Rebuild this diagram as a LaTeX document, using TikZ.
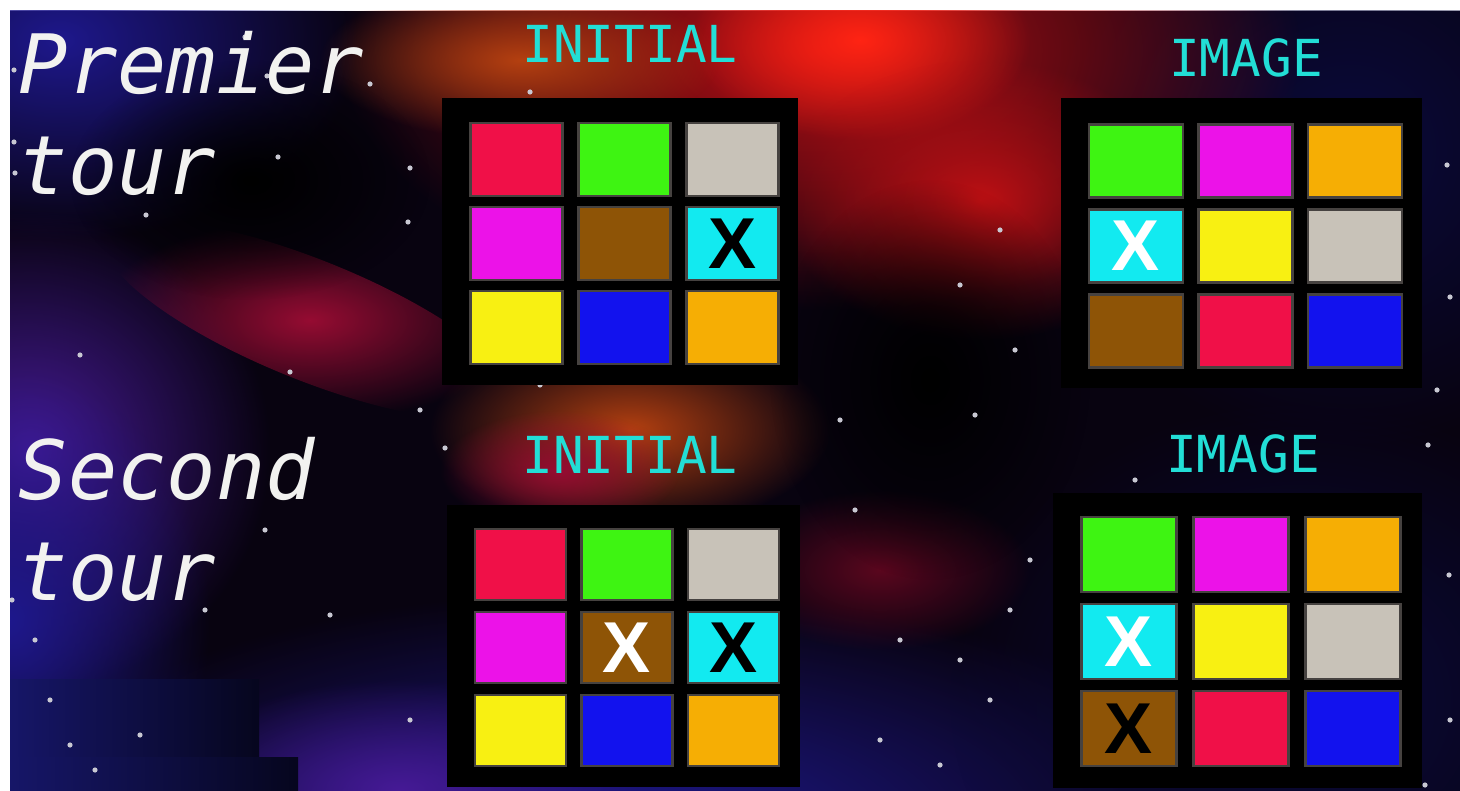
\documentclass[tikz,border=0pt]{standalone}
\usepackage{fontspec}
\usepackage{tikz}
\usetikzlibrary{positioning, fadings}
\newfontfamily\tourfont{DejaVu Sans Mono}
\newfontfamily\xfont{Liberation Sans}
\definecolor{CellRed}{RGB}{240, 16, 72}
\definecolor{CellGreen}{RGB}{62, 244, 18}
\definecolor{CellGray}{RGB}{200, 194, 184}
\definecolor{CellMagenta}{RGB}{236, 18, 232}
\definecolor{CellBrown}{RGB}{142, 84, 6}
\definecolor{CellCyan}{RGB}{18, 234, 240}
\definecolor{CellYellow}{RGB}{248, 240, 18}
\definecolor{CellBlue}{RGB}{18, 18, 238}
\definecolor{CellOrange}{RGB}{246, 174, 4}
\definecolor{CellEdge}{RGB}{70, 66, 64}
\definecolor{HeadCyan}{RGB}{34, 222, 214}
\definecolor{LabelWhite}{RGB}{242, 242, 240}
\definecolor{SpaceBase}{RGB}{8, 3, 16}
\definecolor{NebBlue}{RGB}{30, 24, 140}
\definecolor{NebPurple}{RGB}{70, 26, 150}
\definecolor{NebNavy}{RGB}{10, 10, 60}
\definecolor{NebRed}{RGB}{190, 16, 20}
\definecolor{NebCore}{RGB}{255, 36, 20}
\definecolor{NebCrimson}{RGB}{150, 12, 50}
\definecolor{NebOrange}{RGB}{180, 64, 16}
\definecolor{StarGray}{RGB}{200, 200, 210}
\definecolor{PatchLeft}{RGB}{22, 22, 104}
\definecolor{PatchRight}{RGB}{6, 6, 30}
\tikzfading[name=glowfade, inner color=transparent!0, outer color=transparent!100]

\begin{document}
\begin{tikzpicture}[
    x=0.01cm, y=-0.01cm,
    board/.style={fill=black, inner sep=0pt},
    cell/.style 2 args={draw=CellEdge, line width=0.6pt, inner sep=0pt, minimum width=#1, minimum height=#2},
    head/.style={text=HeadCyan, font=\tourfont\fontsize{14.5}{18}\selectfont, anchor=base, inner sep=0pt},
    roundlbl/.style={text=LabelWhite, font=\tourfont\itshape\fontsize{23.3}{28.45}\selectfont, align=left, anchor=north west, inner sep=0pt},
    xmark/.style={font=\xfont\bfseries\fontsize{20.5}{24}\selectfont, inner sep=0pt},
    glow/.style={fill=#1, path fading=glowfade}
]
\useasboundingbox (0,0) rectangle (1460,791);
\fill[white] (0,0) rectangle (1460,791);

% space background
\begin{scope}
  \clip (10,11) rectangle (1460,791);
  \fill[SpaceBase] (10,11) rectangle (1460,791);
  \fill[glow=NebBlue] (60,40) ellipse (300 and 200);
  \fill[glow=NebPurple] (30,450) ellipse (240 and 240);
  \fill[glow=NebBlue] (10,620) ellipse (200 and 250);
  \fill[glow=NebBlue] (620,830) ellipse (620 and 240);
  \fill[glow=NebPurple] (400,790) ellipse (240 and 110);
  \fill[glow=NebNavy] (1300,700) ellipse (350 and 300);
  \fill[glow=NebNavy] (1350,150) ellipse (300 and 300);
  \fill[glow=NebRed] (820,50) ellipse (480 and 260);
  \fill[glow=NebCore] (860,40) ellipse (170 and 100);
  \fill[glow=NebRed] (980,200) ellipse (200 and 140);
  \fill[glow=NebCrimson, rotate around={-22:(310,320)}] (310,320) ellipse (220 and 60);
  \fill[glow=NebOrange] (630,430) ellipse (200 and 100);
  \fill[glow=NebCrimson] (560,470) ellipse (120 and 60);
  \fill[glow=NebOrange] (520,60) ellipse (200 and 80);
  \fill[glow=NebCrimson!60!black] (880,570) ellipse (150 and 80);
  \fill[glow=black] (930,380) ellipse (160 and 200);
  \fill[glow=black] (250,180) ellipse (180 and 120);
  % dark patches
  \shade[left color=PatchLeft, right color=PatchRight] (10,679) rectangle (259,757);
  \shade[left color=PatchLeft, right color=PatchRight] (10,757) rectangle (298,791);
  % stars
  \foreach \sx/\sy in {245/37, 267/76, 370/84, 14/70, 14/142, 15/173, 278/157, 410/168, 146/215,
      408/222, 80/355, 290/372, 420/410, 445/448, 540/385, 265/530, 205/610, 12/600, 35/640,
      50/700, 70/745, 140/735, 95/770, 410/720, 330/615, 840/420, 1000/230, 960/285, 1015/350,
      975/415, 855/510, 900/640, 960/660, 1010/610, 990/700, 940/765, 1030/560, 880/740,
      1447/165, 1450/297, 1437/390, 1449/575, 1450/720, 1425/785, 1428/445, 530/92, 1150/260, 1135/480}
    \fill[StarGray] (\sx,\sy) circle[radius=2.6];
\end{scope}

% round labels
\node[roundlbl] (tour1) at (18,31) {Premier\\tour};
\node[roundlbl] (tour2) at (18,437) {Second\\tour};

% first round, initial
\node[board, minimum width=3.56cm, minimum height=2.87cm] (ini1) at (620,241.5) {};
\foreach \c [count=\i from 0] in {CellRed,CellGreen,CellGray,CellMagenta,CellBrown,CellCyan,CellYellow,CellBlue,CellOrange}
  \node[cell={0.92cm}{0.73cm}, fill=\c] (ini1-\i) at ({516.5+108*mod(\i,3)},{159.5+84*int(\i/3)}) {};
\node[head] (head1) at (630,63) {INITIAL};
\node[xmark, text=black] (x1) at (ini1-5) {X};

% first round, image
\node[board, minimum width=3.61cm, minimum height=2.9cm] (img1) at (1241.5,243) {};
\foreach \c [count=\i from 0] in {CellGreen,CellMagenta,CellOrange,CellCyan,CellYellow,CellGray,CellBrown,CellRed,CellBlue}
  \node[cell={0.94cm}{0.73cm}, fill=\c] (img1-\i) at ({1136+109.5*mod(\i,3)},{161+85*int(\i/3)}) {};
\node[head] (head2) at (1246,77) {IMAGE};
\node[xmark, text=white] (x2) at (img1-3) {X};

% second round, initial
\node[board, minimum width=3.53cm, minimum height=2.82cm] (ini2) at (623.5,646) {};
\foreach \c [count=\i from 0] in {CellRed,CellGreen,CellGray,CellMagenta,CellBrown,CellCyan,CellYellow,CellBlue,CellOrange}
  \node[cell={0.91cm}{0.71cm}, fill=\c] (ini2-\i) at ({520.5+106.5*mod(\i,3)},{564.5+83*int(\i/3)}) {};
\node[head] (head3) at (630,473) {INITIAL};
\node[xmark, text=white] (x3) at (ini2-4) {X};
\node[xmark, text=black] (x4) at (ini2-5) {X};

% second round, image
\node[board, minimum width=3.69cm, minimum height=2.95cm] (img2) at (1237.5,640.5) {};
\foreach \c [count=\i from 0] in {CellGreen,CellMagenta,CellOrange,CellCyan,CellYellow,CellGray,CellBrown,CellRed,CellBlue}
  \node[cell={0.95cm}{0.75cm}, fill=\c] (img2-\i) at ({1129+112*mod(\i,3)},{554.5+87*int(\i/3)}) {};
\node[head] (head4) at (1243,472) {IMAGE};
\node[xmark, text=white] (x5) at (img2-3) {X};
\node[xmark, text=black] (x6) at (img2-6) {X};
\end{tikzpicture}
\end{document}
